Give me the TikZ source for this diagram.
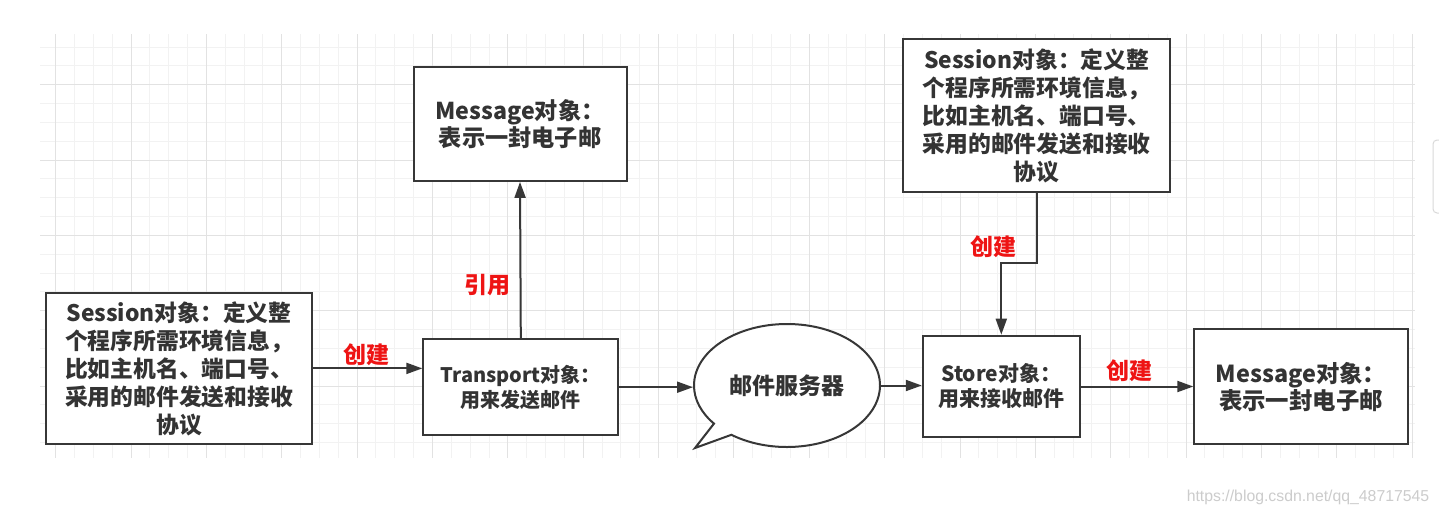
\documentclass[tikz,border=0pt]{standalone}
\usepackage{fontspec}
\setmainfont{Noto Sans CJK SC}
\newfontfamily\urlfont{Liberation Sans}
\usetikzlibrary{arrows.meta,shapes.callouts}
\definecolor{lineGray}{RGB}{55,55,55}
\definecolor{textGray}{RGB}{51,51,51}
\definecolor{labelRed}{RGB}{238,20,20}
\definecolor{gridMinor}{RGB}{242,242,242}
\definecolor{gridMajor}{RGB}{226,226,226}

\begin{document}
\begin{tikzpicture}[x=0.5pt,y=-0.5pt,%%
  arrowStyle/.style={-{Triangle[length=8pt,width=5.5pt]},line width=1pt,draw=lineGray},%%
  boxStyle/.style={draw=lineGray,line width=1pt,fill=white,align=center,inner sep=0pt,text=textGray},%%
  labelStyle/.style={text=labelRed,font=\bfseries\fontsize{11.5}{13}\selectfont},%%
  minorStyle/.style={draw=gridMinor,line width=0.5pt},%%
  majorStyle/.style={draw=gridMajor,line width=0.5pt}%%
]
%%
\useasboundingbox[fill=white] (0,0) rectangle (1439,514);
%%
\pgfmathsetmacro{\gstep}{18.84}  %% grid step
\pgfmathsetmacro{\gxlow}{40}
\pgfmathsetmacro{\gxhigh}{1415}
\pgfmathsetmacro{\gylow}{34}
\pgfmathsetmacro{\gyhigh}{458}
%%
%% The grid behind the diagram.
\foreach \k in {0,...,72} {
  \pgfmathsetmacro{\gx}{55.7+\gstep*\k}
  \draw[minorStyle] (\gx,\gylow) -- (\gx,\gyhigh);
}
\foreach \k in {0,...,21} {
  \pgfmathsetmacro{\gy}{47+\gstep*\k}
  \draw[minorStyle] (\gxlow,\gy) -- (\gxhigh,\gy);
}
\foreach \k in {0,4,...,72} {
  \pgfmathsetmacro{\gx}{55.7+\gstep*\k}
  \draw[majorStyle] (\gx,\gylow) -- (\gx,\gyhigh);
}
\foreach \k in {2,6,...,18} {
  \pgfmathsetmacro{\gy}{47+\gstep*\k}
  \draw[majorStyle] (\gxlow,\gy) -- (\gxhigh,\gy);
}
%%
%% Coordinates for the boxes.
\coordinate (sessionLeftC) at (179,368.4);
\coordinate (transportC) at (520.8,387.2);
\coordinate (messageTopC) at (520,123.9);
\coordinate (serverC) at (787,385.5);
\coordinate (storeC) at (1001.3,386.5);
\coordinate (messageRightC) at (1301,386.8);
\coordinate (sessionTopC) at (1036.7,115.8);
\coordinate (serverTip) at (695,448);
\coordinate (bendTop) at (1036,263.3);
%%
%% The boxes.
\node[boxStyle,minimum width=133pt,minimum height=75.5pt,
  font=\bfseries\fontsize{11.4}{14}\selectfont] (sessionLeft) at (sessionLeftC)
  {Session对象：定义整\\个程序所需环境信息，\\比如主机名、端口号、\\采用的邮件发送和接收\\协议};
\node[boxStyle,minimum width=97.5pt,minimum height=48pt,
  font=\bfseries\fontsize{10}{12.5}\selectfont] (transport) at (transportC)
  {Transport对象：\\用来发送邮件};
\node[boxStyle,minimum width=106.5pt,minimum height=57pt,
  font=\bfseries\fontsize{11.6}{13.3}\selectfont] (messageTop) at (messageTopC)
  {Message对象：\\表示一封电子邮};
\node[boxStyle,shape=ellipse callout,minimum width=93pt,minimum height=61.5pt,
  callout absolute pointer={(serverTip)},
  font=\bfseries\fontsize{11.5}{13}\selectfont] (mailServer) at (serverC)
  {邮件服务器};
\node[boxStyle,minimum width=78.5pt,minimum height=50.8pt,
  font=\bfseries\fontsize{10.5}{12.5}\selectfont] (store) at (storeC)
  {Store对象：\\用来接收邮件};
\node[boxStyle,minimum width=106.7pt,minimum height=57.5pt,
  font=\bfseries\fontsize{11.7}{13.3}\selectfont] (messageRight) at (messageRightC)
  {Message对象：\\表示一封电子邮};
\node[boxStyle,minimum width=133.3pt,minimum height=76.5pt,
  font=\bfseries\fontsize{11.4}{14}\selectfont] (sessionTop) at (sessionTopC)
  {Session对象：定义整\\个程序所需环境信息，\\比如主机名、端口号、\\采用的邮件发送和接收\\协议};
%%
%% The connectors.
\draw[arrowStyle] (sessionLeft.east) -- (sessionLeft.east -| transport.west);
\draw[arrowStyle] (transport.north) -- (messageTop.south);
\draw[arrowStyle] (transport.east) -- (transport.east -| mailServer.west);
\draw[arrowStyle] (mailServer.east) -- (mailServer.east -| store.west);
\draw[arrowStyle] (store.east) -- (store.east -| messageRight.west);
\draw[arrowStyle] (sessionTop.south) -- (sessionTop.south |- bendTop) -| (store.north);
%%
%% The labels of the connectors.
\node[labelStyle] (createOne) at (366.5,355) {创建};
\node[labelStyle] (quoteLabel) at (487.5,285) {引用};
\node[labelStyle] (createTwo) at (993,247) {创建};
\node[labelStyle] (createThree) at (1129,371) {创建};
%%
%% The watermark and the side tab.
\node[text=gray!40,font=\urlfont\fontsize{7.9}{9.5}\selectfont] (waterMark) at (1308,497)
  {https://blog.csdn.net/qq\_48717545};
\draw[draw=gray!30,line width=0.5pt,rounded corners=2pt] (1433,140) rectangle (1450,213);
\end{tikzpicture}
\end{document}
